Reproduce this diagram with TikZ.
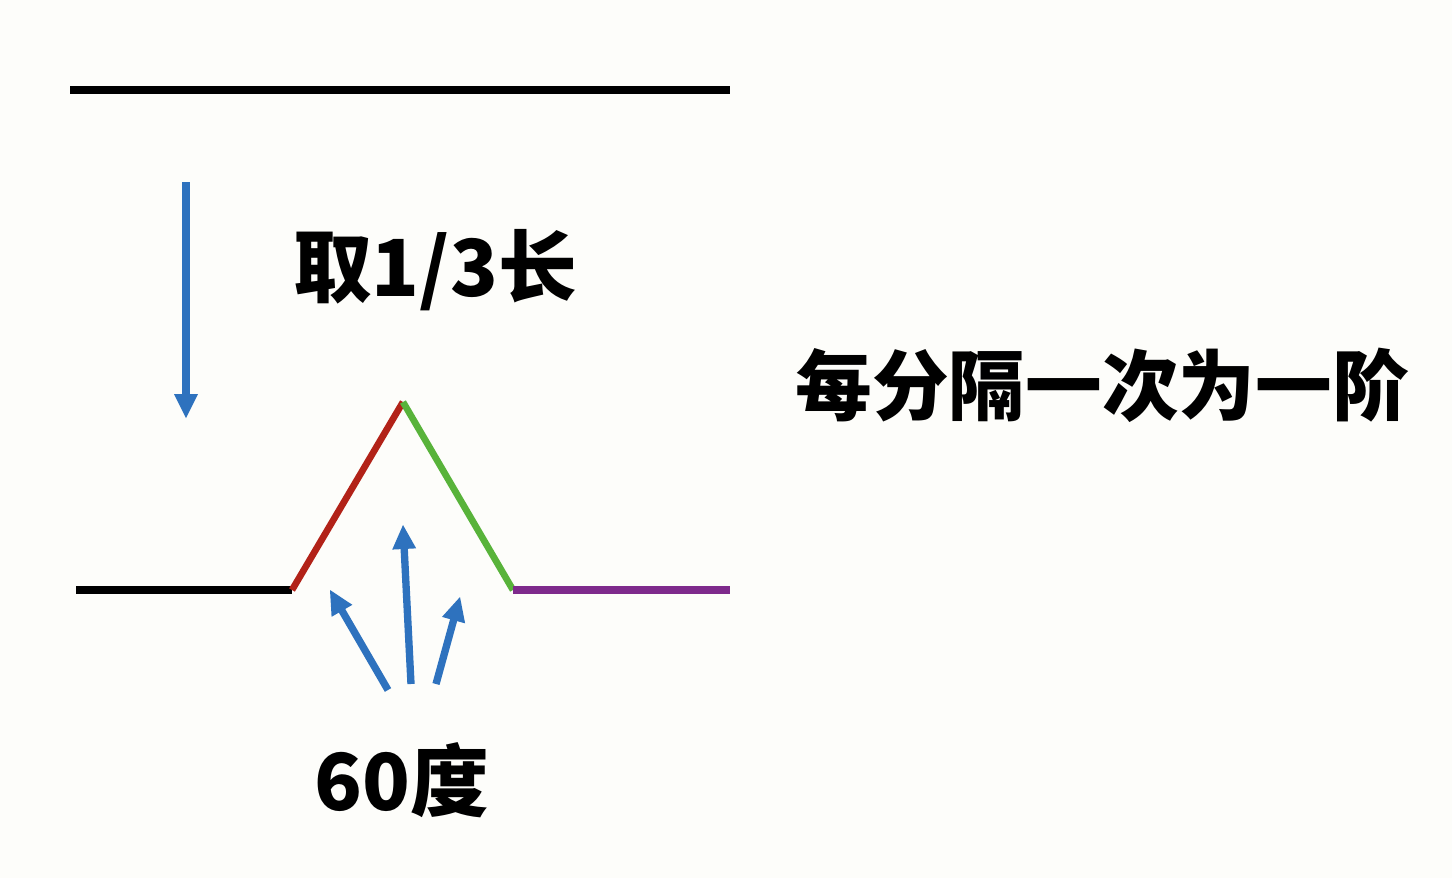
\documentclass[tikz,border=0pt]{standalone}
\usepackage{fontspec}
\newfontfamily\cjk{Noto Sans CJK SC}
\usetikzlibrary{positioning}

\definecolor{bgpaper}{RGB}{253,253,250}
\definecolor{arrowblue}{RGB}{46,114,190}
\definecolor{sidered}{RGB}{178,34,24}
\definecolor{sidegreen}{RGB}{88,179,58}
\definecolor{sidepurple}{RGB}{126,42,140}

\tikzset{every picture/.style={line width=0.75pt}}
\tikzset{
  bigtext/.style={inner sep=0.75pt, font=\cjk\bfseries\fontsize{59}{62}\selectfont},
  segline/.style={line width=6pt},
  bluearrow/.style={color=arrowblue, line width=5.5pt, shorten >=12pt},
  bluetip/.style={fill=arrowblue, draw opacity=0}
}

\begin{document}
\begin{tikzpicture}[x=0.75pt,y=0.75pt,yscale=-1,xscale=1]
%background, sets the 1452 x 878 frame
\fill [bgpaper] (0,0) rectangle (1452,878);

%points of the curve
\coordinate (topL) at (70,90);
\coordinate (topR) at (730,90);
\coordinate (botL) at (76,590);
\coordinate (cutA) at (292,590);
\coordinate (peak) at (403,402);
\coordinate (cutB) at (513,590);
\coordinate (botR) at (730,590);

%Straight Lines: original segment
\draw [segline] (topL) -- (topR) ;
%Straight Lines: first generation
\draw [segline] (botL) -- (cutA) ;
\draw [segline, color=sidered, line width=5pt] (cutA) -- (peak) ;
\draw [segline, color=sidegreen, line width=5pt] (peak) -- (cutB) ;
\draw [segline, color=sidepurple] (cutB) -- (botR) ;

%Arrow: step down
\coordinate (downS) at (186,182);
\coordinate (downE) at (186,418);
\draw [bluearrow] (downS) -- (downE) ;
\draw [bluetip, shift={(downE)}, rotate = 270] (24,-12) -- (0,0) -- (24,12) -- cycle ;

%Arrows: 60 degree
\coordinate (angS1) at (388,690);
\coordinate (angE1) at (330,590);
\draw [bluearrow] (angS1) -- (angE1) ;
\draw [bluetip, shift={(angE1)}, rotate = 60.07] (24,-12) -- (0,0) -- (24,12) -- cycle ;
\coordinate (angS2) at (411,684);
\coordinate (angE2) at (403,525);
\draw [bluearrow] (angS2) -- (angE2) ;
\draw [bluetip, shift={(angE2)}, rotate = 87.1] (24,-12) -- (0,0) -- (24,12) -- cycle ;
\coordinate (angS3) at (436,684);
\coordinate (angE3) at (460,597);
\draw [bluearrow] (angS3) -- (angE3) ;
\draw [bluetip, shift={(angE3)}, rotate = 105.6] (24,-12) -- (0,0) -- (24,12) -- cycle ;

% Text Node
\node (third) [bigtext] at (435,270) {取1/3长};
% Text Node
\node (order) [bigtext, font=\cjk\bfseries\fontsize{57.5}{60}\selectfont] at (1102,385) {每分隔一次为一阶};
% Text Node
\node (sixty) [bigtext] at (402,780) {60度};

\end{tikzpicture}
\end{document}
